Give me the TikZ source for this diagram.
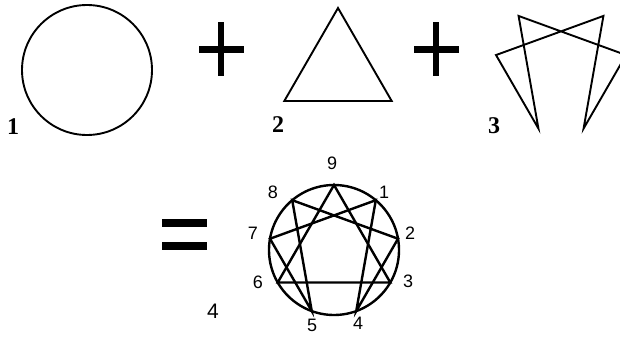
\documentclass[tikz,border=0pt]{standalone}
\usepackage{fontspec}
\setmainfont{Liberation Serif}
\setsansfont{Liberation Sans}
\usetikzlibrary{calc}

\tikzset{
  figline/.style={line width=1.9pt, line join=miter},
  ennline/.style={line width=2.4pt, line join=miter},
  steplabel/.style={font=\bfseries\fontsize{24}{24}\selectfont, inner sep=0pt},
  pointlabel/.style={font=\sffamily\fontsize{18}{18}\selectfont, inner sep=0pt},
  barfill/.style={fill=black}
}

\begin{document}
\begin{tikzpicture}[x=1pt, y=-1pt]
  \useasboundingbox (0,0) rectangle (620,337);
  \clip (0,0) rectangle (620,337);

  %% --- 1: the circle ---
  \draw[figline] (87,70) circle [radius=65];
  \node[steplabel] (lab1) at (13,127) {1};

  %% --- Plus signs ---
  \foreach \cx in {221, 436} {
    \fill[barfill] (\cx-22.5, 45.7) rectangle (\cx+22.5, 53.3);
    \fill[barfill] (\cx-3.3, 22.3) rectangle (\cx+3.3, 75.7);
  }

  %% --- 2: the triangle ---
  \coordinate (tri) at (338,70);
  \draw[figline] ($(tri)+(270:62)$) -- ($(tri)+(30:62)$)
    -- ($(tri)+(150:62)$) -- cycle;
  \node[steplabel] (lab2) at (278,125) {2};

  %% --- 3: the hexad ---
  \coordinate (hex) at (561,66.5);
  \foreach \k in {1,2,4,5,7,8}
    \coordinate (h\k) at ($(hex)+({40*\k-90}:66)$);
  \draw[figline] (h1) -- (h4) -- (h2) -- (h8) -- (h5) -- (h7) -- cycle;
  \node[steplabel] (lab3) at (494,126) {3};

  %% --- Equals sign ---
  \fill[barfill] (161.7,219.3) rectangle (206.7,227.3);
  \fill[barfill] (161.7,242.3) rectangle (206.7,250);

  %% --- 4: the enneagram ---
  \coordinate (enn) at (334,250);
  \draw[ennline] (enn) circle [radius=65];
  \foreach \k in {1,...,9}
    \coordinate (e\k) at ($(enn)+({40*\k-90}:65)$);
  \draw[ennline] (e9) -- (e3) -- (e6) -- cycle;
  \draw[ennline] (e1) -- (e4) -- (e2) -- (e8) -- (e5) -- (e7) -- cycle;

  %% --- Point numbers round the circle ---
  \foreach \k/\lx/\ly in {9/332/163, 1/384/192, 2/410/233, 3/408/281,
      4/358/323, 5/312/325, 6/258/282, 7/253/233, 8/273/192}
    \node[pointlabel] (n\k) at (\lx,\ly) {\k};
  \node[font=\sffamily\fontsize{21}{21}\selectfont, inner sep=0pt]
    (lab4) at (213,311) {4};
\end{tikzpicture}
\end{document}
